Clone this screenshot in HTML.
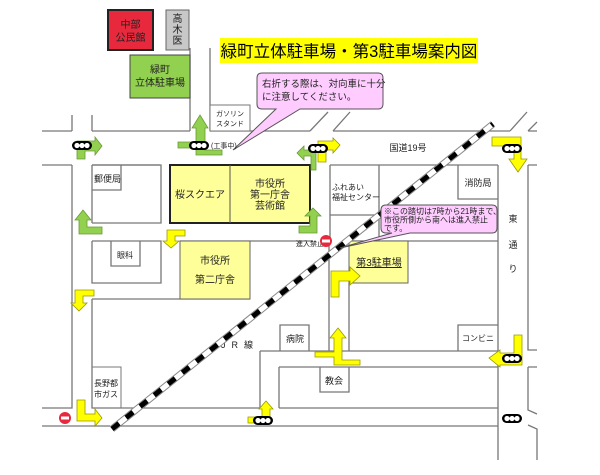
<!DOCTYPE html>
<html><head><meta charset="utf-8"><style>
html,body{margin:0;padding:0;background:#fff;}
svg{display:block;}
text{font-family:"Liberation Sans","Noto Sans CJK JP",sans-serif;fill:#222;}
</style></head><body>
<svg width="600" height="475" viewBox="0 0 600 475" xmlns="http://www.w3.org/2000/svg">
<g stroke="#777" stroke-width="1.3" fill="none">
<path d="M42 131H72M92 131H190M210 131H310M333 131H510M528 131H537"/>
<path d="M42 165H72M92 165H160M330 165H498M528 165H537"/>
<path d="M310 131L328 112M333 131L350 112M510 131L527 112M528 131L537 122"/>
<path d="M72 115V131M92 115V131M72 165V408H42M92 165V223M92 299V408H260M279 408H498M42 426H110M118 426H498"/>
<path d="M92 241V283H161V241H92M111 241V266H140V241"/>
<path d="M92 299H250"/>
<path d="M92 165H161V223H92M92 190H121V165"/>
<path d="M190 48V131M210 48V131"/>
<path d="M498 165V460M528 165V350H537M528 367H537M528 367V410L537 414M528 425L537 429V460"/>
<path d="M260 351H498M279 367H498M260 351V408M279 367V408"/>
<path d="M180 241H313M349 241H498M329 241V351M349 283V351"/>
<path d="M330 165V241M379 165V241M330 215H379M458 165V199H498"/>
<path d="M280 351V325H309V351M320 367V392H349V367M458 351V325H498"/>
</g>
<rect x="108" y="10" width="45" height="40" fill="#e8283c" stroke="#222" stroke-width="2"/>
<text x="130.5" y="28" font-size="10" text-anchor="middle">中部</text>
<text x="130.5" y="41" font-size="10" text-anchor="middle">公民館</text>
<rect x="166" y="10" width="23" height="40" fill="#c8c8c8" stroke="#666"/>
<text x="177.5" y="22" font-size="10" text-anchor="middle">高</text>
<text x="177.5" y="33" font-size="10" text-anchor="middle">木</text>
<text x="177.5" y="44" font-size="10" text-anchor="middle">医</text>
<rect x="130" y="55" width="60" height="43" fill="#92d050" stroke="#444"/>
<text x="160" y="73" font-size="10" text-anchor="middle">緑町</text>
<text x="160" y="86" font-size="10" text-anchor="middle">立体駐車場</text>
<rect x="210" y="105" width="40" height="26" fill="#fff" stroke="#777"/>
<text x="230" y="116" font-size="7" text-anchor="middle">ガソリン</text>
<text x="230" y="126" font-size="7" text-anchor="middle">スタンド</text>
<rect x="220" y="38" width="258" height="25" fill="#ffff00"/>
<text x="349" y="57" font-size="16.5" text-anchor="middle" style="fill:#000">緑町立体駐車場・第3駐車場案内図</text>
<path d="M262 73H378Q383 73 383 78V104Q383 109 378 109H300L233 150L276 109H262Q257 109 257 104V78Q257 73 262 73Z" fill="#ffccff" stroke="#555"/>
<text x="262" y="87" font-size="9.5">右折する際は、対向車に十分</text>
<text x="262" y="100" font-size="9.5">に注意してください。</text>
<rect x="170" y="165" width="140" height="58" fill="#ffff99" stroke="#222" stroke-width="2"/>
<line x1="230" y1="165" x2="230" y2="223" stroke="#555"/>
<text x="200" y="198" font-size="10" text-anchor="middle">桜スクエア</text>
<text x="270" y="187" font-size="10" text-anchor="middle">市役所</text>
<text x="270" y="198" font-size="10" text-anchor="middle">第一庁舎</text>
<text x="270" y="209" font-size="10" text-anchor="middle">芸術館</text>
<text x="94" y="182" font-size="9">郵便局</text>
<text x="125" y="258" font-size="8" text-anchor="middle">眼科</text>
<rect x="180" y="241" width="70" height="58" fill="#ffff99" stroke="#666"/>
<text x="215" y="264" font-size="10" text-anchor="middle">市役所</text>
<text x="215" y="283" font-size="10" text-anchor="middle">第二庁舎</text>
<text x="332" y="190" font-size="8">ふれあい</text>
<text x="332" y="200" font-size="8">福祉センター</text>
<text x="478" y="186" font-size="9" text-anchor="middle">消防局</text>
<text x="408" y="151" font-size="9" text-anchor="middle">国道19号</text>
<text x="513" y="222" font-size="9" text-anchor="middle">東</text>
<text x="513" y="248" font-size="9" text-anchor="middle">通</text>
<text x="513" y="272" font-size="9" text-anchor="middle">り</text>
<rect x="349" y="241" width="59" height="42" fill="#ffff99" stroke="#666"/>
<text x="379" y="266" font-size="10" text-anchor="middle" text-decoration="underline">第3駐車場</text>
<text x="295" y="342" font-size="9" text-anchor="middle">病院</text>
<text x="334" y="384" font-size="9" text-anchor="middle">教会</text>
<text x="478" y="341" font-size="8" text-anchor="middle">コンビニ</text>
<text x="106" y="386" font-size="8" text-anchor="middle">長野都</text>
<text x="106" y="397" font-size="8" text-anchor="middle">市ガス</text>
<path d="M92 367H121V408" stroke="#777" fill="none"/>
<text x="240" y="348" font-size="9" text-anchor="middle" letter-spacing="6">JR線</text>
<text x="296" y="246" font-size="7">進入禁止</text>
<line x1="112" y1="429" x2="493" y2="124" stroke="#888" stroke-width="7"/>
<line x1="112" y1="429" x2="493" y2="124" stroke="#fff" stroke-width="5"/>
<line x1="112" y1="429" x2="493" y2="124" stroke="#000" stroke-width="5" stroke-dasharray="9 9"/>
<path d="M386 205H492Q497 205 497 210V228Q497 233 492 233H410L340 248L392 233H386Q381 233 381 228V210Q381 205 386 205Z" fill="#ffccff" stroke="#555"/>
<text x="384" y="214" font-size="8">※この踏切は7時から21時まで、</text>
<text x="384" y="222.5" font-size="8">市役所側から南へは進入禁止</text>
<text x="384" y="231" font-size="8">です。</text>
<g fill="#92d050" stroke="#6a9a35" stroke-width="0.8">
<polygon points="77,159 85,159 85,151 95,151 95,155 102,146 95,137 95,141 77,141"/>
<polygon points="200,115 208,128 205,128 205,150 222,150 222,155 196,155 196,148 178,148 178,142 196,142 196,128 192,128"/>
<polygon points="297,153 304,146 304,150 316,150 316,170 311,170 311,156 304,156 304,160"/>
<polygon points="313,208 321,216 317,216 317,233 299,233 299,226 310,226 310,216 305,216"/>
<polygon points="83,210 91,220 87,220 87,227 102,227 102,234 79,234 79,220 75,220"/>
</g>
<g fill="#ffff00" stroke="#999900" stroke-width="0.8">
<polygon points="167,230 185,230 185,236 175,236 175,241 179,241 171,248 163,241 167,241"/>
<polygon points="94,290 94,296 83,296 83,303 87,303 79,311 71,303 75,303 75,290"/>
<polygon points="77,400 85,400 85,414 95,414 95,409 102,418 95,426 95,421 77,421"/>
<polygon points="331,297 339,297 339,281 350,281 350,285 360,276 350,267 350,271 331,271"/>
<polygon points="338,328 346,338 342,338 342,360 360,360 360,365 334,365 334,357 315,357 315,352 334,352 334,338 330,338"/>
<polygon points="492,137 521,137 521,159 527,159 518,172 509,159 514,159 514,146 492,146"/>
<polygon points="514,335 522,335 522,365 500,365 500,367 489,358 500,350 500,353 514,353"/>
<polygon points="266,401 273,409 270,409 270,423 248,423 248,417 262,417 262,409 259,409"/>
<polygon points="318,162 326,162 326,150 333,150 333,153 340,145 333,138 333,141 318,141"/>
</g>
<g>
<g transform="translate(72,141)"><rect width="20" height="9" rx="4.5" fill="#000"/><circle cx="5" cy="4.5" r="2.6" fill="#fff"/><circle cx="10" cy="4.5" r="2.6" fill="#fff"/><circle cx="15" cy="4.5" r="2.6" fill="#fff"/></g>
<g transform="translate(189,141)"><rect width="20" height="9" rx="4.5" fill="#000"/><circle cx="5" cy="4.5" r="2.6" fill="#fff"/><circle cx="10" cy="4.5" r="2.6" fill="#fff"/><circle cx="15" cy="4.5" r="2.6" fill="#fff"/></g>
<g transform="translate(308,144)"><rect width="20" height="9" rx="4.5" fill="#000"/><circle cx="5" cy="4.5" r="2.6" fill="#fff"/><circle cx="10" cy="4.5" r="2.6" fill="#fff"/><circle cx="15" cy="4.5" r="2.6" fill="#fff"/></g>
<g transform="translate(502,144)"><rect width="20" height="9" rx="4.5" fill="#000"/><circle cx="5" cy="4.5" r="2.6" fill="#fff"/><circle cx="10" cy="4.5" r="2.6" fill="#fff"/><circle cx="15" cy="4.5" r="2.6" fill="#fff"/></g>
<g transform="translate(502,354)"><rect width="20" height="9" rx="4.5" fill="#000"/><circle cx="5" cy="4.5" r="2.6" fill="#fff"/><circle cx="10" cy="4.5" r="2.6" fill="#fff"/><circle cx="15" cy="4.5" r="2.6" fill="#fff"/></g>
<g transform="translate(502,414)"><rect width="20" height="9" rx="4.5" fill="#000"/><circle cx="5" cy="4.5" r="2.6" fill="#fff"/><circle cx="10" cy="4.5" r="2.6" fill="#fff"/><circle cx="15" cy="4.5" r="2.6" fill="#fff"/></g>
<g transform="translate(253,416)"><rect width="20" height="9" rx="4.5" fill="#000"/><circle cx="5" cy="4.5" r="2.6" fill="#fff"/><circle cx="10" cy="4.5" r="2.6" fill="#fff"/><circle cx="15" cy="4.5" r="2.6" fill="#fff"/></g>
</g>
<text x="211" y="148" font-size="7">(工事中)</text>
<circle cx="65" cy="418" r="6" fill="#e8283c"/><rect x="61" y="416.5" width="8" height="3" fill="#fff"/>
<circle cx="326" cy="241" r="6" fill="#e8283c"/><rect x="322" y="239.5" width="8" height="3" fill="#fff"/>
</svg>
</body></html>
